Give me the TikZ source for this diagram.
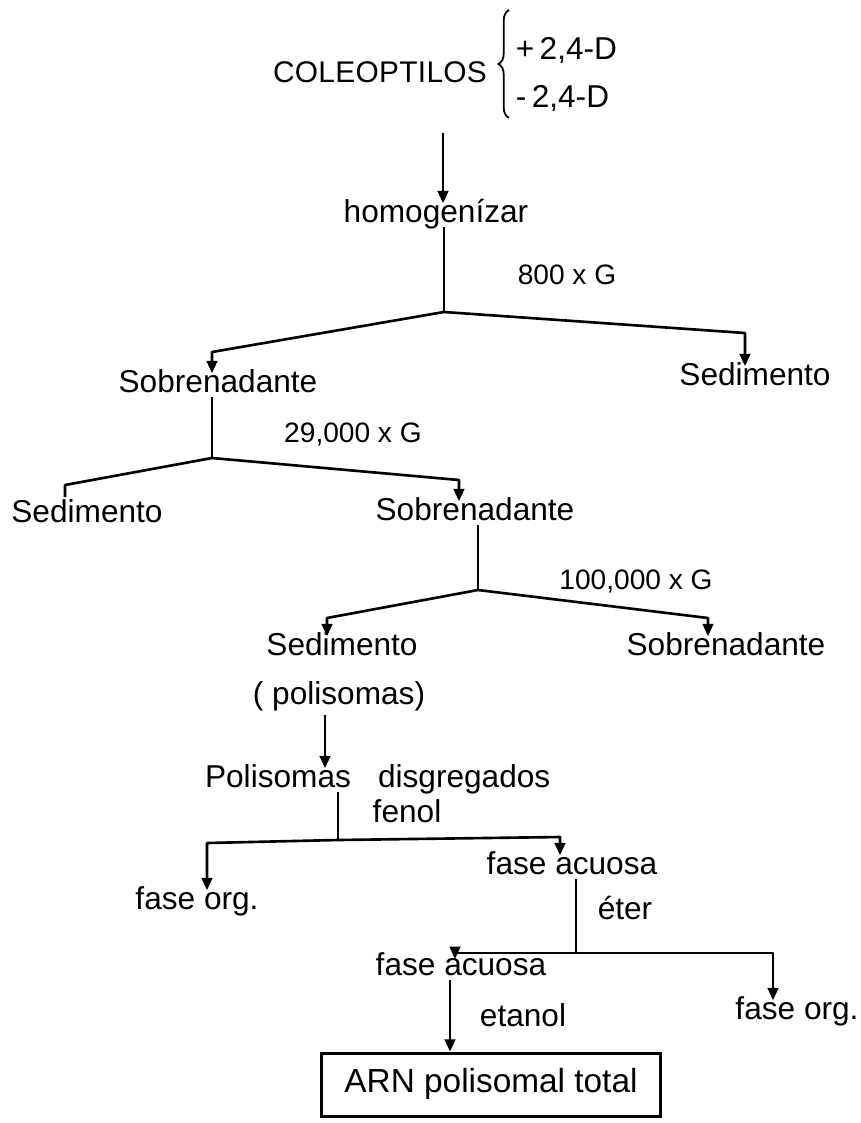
\documentclass[tikz,border=0pt]{standalone}
\usepackage{fontspec}
\setmainfont{Liberation Sans}
\usetikzlibrary{arrows.meta,decorations.pathreplacing}
\begin{document}
\begin{tikzpicture}[x=0.02cm,y=-0.02cm,
  txt/.style={inner sep=1.5pt,text height=0.9em,text depth=0.1em,font=\fontsize{18}{20}\selectfont},
  lbl/.style={txt,font=\fontsize{16}{18}\selectfont},
  ln/.style={line width=1.5pt,line join=round},
  arr/.style={ln,-{Triangle[length=7pt,width=6pt]}},
  resbox/.style={txt,font=\fontsize{19}{21}\selectfont,draw,line width=1.6pt,minimum width=192.8pt,minimum height=36.3pt}]
\useasboundingbox (0,0) rectangle (861,1123);
% top
\node[txt,font=\fontsize{17}{20}\selectfont\addfontfeature{LetterSpace=1}] (col) at (380,75) {COLEOPTILOS};
\draw[line width=1pt,decorate,decoration={brace,amplitude=6pt}] (509,118) -- (509,10);
\node[txt,anchor=west] (plus) at (513,52) {+\,2,4-D};
\node[txt,anchor=west] (minus) at (513,100) {-\,2,4-D};
\coordinate (a0) at (443,133);
\node[txt] (homog) at (436,215) {homogenízar};
\draw[arr] (a0) -- (a0 |- homog.north);
% 800 x G
\coordinate (j1) at (444,312);
\coordinate (j1l) at (212,352);
\coordinate (j1r) at (745,333);
\node[lbl] (g1) at (567,277) {800 x G};
\node[txt] (sob1) at (218,385) {Sobrenadante};
\node[txt] (sed1) at (755,378) {Sedimento};
\draw[ln] (homog.south -| j1) -- (j1);
\draw[arr] (j1) -- (j1l) -- (j1l |- sob1.north);
\draw[arr] (j1) -- (j1r) -- (j1r |- sed1.north);
% 29,000 x G
\coordinate (j2) at (212,458);
\coordinate (j2l) at (65,485);
\coordinate (j2r) at (459,480);
\node[lbl] (g2) at (353,435) {29,000 x G};
\node[txt] (sed2) at (87,515) {Sedimento};
\node[txt] (sob2) at (475,513) {Sobrenadante};
\draw[ln] (sob1.south -| j2) -- (j2);
\draw[ln] (j2) -- (j2l) -- ++(0,12);
\draw[arr] (j2) -- (j2r) -- (j2r |- sob2.north);
% 100,000 x G
\coordinate (j3) at (478,590);
\coordinate (j3l) at (327,618);
\coordinate (j3r) at (708,618);
\node[lbl] (g3) at (636,582) {100,000 x G};
\node[txt] (sed3) at (342,648) {Sedimento};
\node[txt] (sob3) at (726,648) {Sobrenadante};
\draw[ln] (sob2.south -| j3) -- (j3);
\draw[arr] (j3) -- (j3l) -- (j3l |- sed3.north);
\draw[arr] (j3) -- (j3r) -- (j3r |- sob3.north);
\node[txt] (pol) at (339,697) {( polisomas)};
\node[txt] (polis) at (278,780) {Polisomas};
\node[txt,anchor=base west] (disg) at ([xshift=12pt]polis.base east) {disgregados};
\coordinate (a1) at (325,715);
\draw[arr] (a1) -- (a1 |- polis.north);
% fenol
\coordinate (j4) at (338,840);
\coordinate (j4l) at (207,843);
\coordinate (j4r) at (560,837);
\node[txt] (fen) at (407,815) {fenol};
\node[txt] (fo1) at (197,902) {fase org.};
\node[txt] (fa1) at (572,867) {fase acuosa};
\draw[ln] (polis.south -| j4) -- (j4);
\draw[arr] (j4) -- (j4l) -- (j4l |- fo1.north);
\draw[arr] (j4) -- (j4r) -- (j4r |- fa1.north);
% eter
\coordinate (j5) at (576,953);
\coordinate (j5l) at (455,953);
\coordinate (j5r) at (773,953);
\node[txt] (eter) at (625,912) {éter};
\node[txt] (fa2) at (461,968) {fase acuosa};
\node[txt] (fo2) at (797,1012) {fase org.};
\draw[ln] (fa1.south -| j5) -- (j5);
\draw[arr] (j5) -- (j5l) -- ++(0,6);
\draw[arr] (j5) -- (j5r) -- (j5r |- fo2.north);
% etanol
\node[resbox] (arn) at (491,1085) {ARN polisomal total};
\node[txt] (etan) at (523,1019) {etanol};
\coordinate (a2) at (450,0);
\draw[arr] (fa2.south -| a2) -- (arn.north -| a2);
\end{tikzpicture}
\end{document}
